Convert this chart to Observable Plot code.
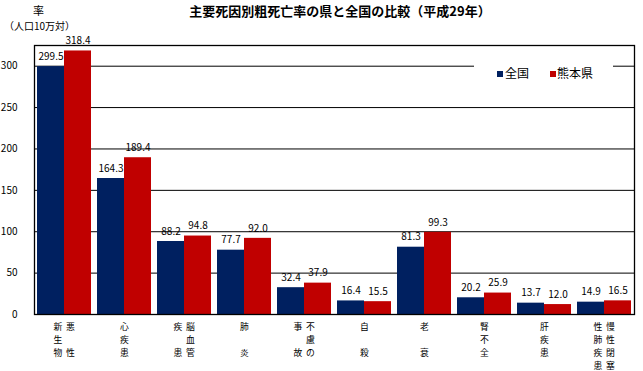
<!DOCTYPE html>
<html>
<head>
<meta charset="utf-8">
<script src="https://cdn.jsdelivr.net/npm/d3@7"></script>
<script src="https://cdn.jsdelivr.net/npm/@observablehq/plot@0.6"></script>
<style>
  html, body { margin: 0; padding: 0; background: #fff; }
  body { font-family: "Noto Sans CJK JP", "Noto Sans", sans-serif; }
  #wrap { position: relative; width: 643px; height: 371px; overflow: hidden; }
  #wrap svg { position: absolute; left: 0; top: 0; }
  .abs { position: absolute; white-space: nowrap; line-height: 1; color: #000; }
  #title { left: 0; width: 680px; top: 4px; text-align: center; font-size: 13px; font-weight: bold; }
  #ylab1 { left: 33px; top: 5px; font-size: 11px; }
  #ylab2 { left: 4px; top: 21px; font-size: 10px; }
  #legend { left: 474px; top: 55px; width: 139px; height: 40px; background: #fff; }
  .sw { position: absolute; width: 6px; height: 6px; top: 16px; }
  .lt { position: absolute; top: 12px; font-size: 12px; line-height: 1; }
</style>
</head>
<body>
<div id="wrap">
  <div id="chart"></div>
  <div class="abs" id="title">主要死因別粗死亡率の県と全国の比較（平成29年）</div>
  <div class="abs" id="ylab1">率</div>
  <div class="abs" id="ylab2">（人口10万対）</div>
  <div class="abs" id="legend"></div>
</div>
<script>
// ---- data ----
const categories = ["悪性新生物","心疾患","脳血管疾患","肺炎","不慮の事故","自殺","老衰","腎不全","肝疾患","慢性閉塞性肺疾患"];
// vertical label columns, right-to-left
const labelColumns = [["悪性","新生物"],["心疾患"],["脳血管","疾患"],["肺炎"],["不慮の","事故"],["自殺"],["老衰"],["腎不全"],["肝疾患"],["慢性閉塞","性肺疾患"]];
const seriesNames = ["全国","熊本県"];
const national = [299.5, 164.3, 88.2, 77.7, 32.4, 16.4, 81.3, 20.2, 13.7, 14.9];
const kumamoto = [318.4, 189.4, 94.8, 92.0, 37.9, 15.5, 99.3, 25.9, 12.0, 16.5];
const yTicks = [0, 50, 100, 150, 200, 250, 300];
const colors = ["#002060", "#C00000"];

// ---- build tables ----
const natRows = categories.map((c, i) => ({cat: c, series: seriesNames[0], value: national[i]}));
const kumRows = categories.map((c, i) => ({cat: c, series: seriesNames[1], value: kumamoto[i]}));

const W = 643, H = 371, ML = 34, MR = 9, MT = 45, MB = 57;
const xOpts = {type: "band", domain: categories, paddingInner: 0.1, paddingOuter: 0.05};
const bw = Plot.scale({x: {...xOpts, range: [ML, W - MR]}}).bandwidth;

// one multi-line text per label column; chars distributed over the rows
const cols = [];
categories.forEach((c, i) => {
  const cs = labelColumns[i];
  const R = Math.max(3, d3.max(cs, s => s.length));
  cs.forEach((s, j) => {
    const off = cs.length === 1 ? 0 : (j === 0 ? 6 : -6.5);
    const n = s.length;
    const lines = Array(R).fill("");
    Array.from(s).forEach((ch, k) => {
      const row = n === 1 ? 0 : Math.round(k * (R - 1) / (n - 1));
      lines[row] = ch;
    });
    cols.push({cat: c, text: lines.join("\n"), off});
  });
});
const fmt = d3.format(".1f");

const LFS = 8.8, LSTEP = 12.9;
const labelMarks = [-6.5, 0, 6].map(off => Plot.text(cols.filter(d => d.off === off), {
  x: "cat", text: "text", frameAnchor: "bottom", dx: off, dy: 6.5,
  fontSize: LFS, lineAnchor: "top", lineHeight: LSTEP / LFS
}));

const chart = Plot.plot({
  width: W, height: H,
  marginLeft: ML, marginRight: MR, marginTop: MT, marginBottom: MB,
  style: {fontFamily: '"Noto Sans CJK JP", "Noto Sans", sans-serif', fontSize: "10px", color: "#000", background: "transparent"},
  x: {...xOpts, axis: null},
  y: {domain: [0, 325], ticks: yTicks, tickSize: 0, tickPadding: 17, label: null, tickFormat: d3.format("d")},
  marks: [
    Plot.ruleY(yTicks.filter(t => t > 0), {stroke: "#000", strokeWidth: 1}),
    Plot.barY(natRows, {x: "cat", y: "value", fill: colors[0], insetRight: bw / 2}),
    Plot.barY(kumRows, {x: "cat", y: "value", fill: colors[1], insetLeft: bw / 2}),
    Plot.text(natRows, {x: "cat", y: "value", text: d => fmt(d.value), dx: -bw / 4, dy: -10, fontSize: 10}),
    Plot.text(kumRows, {x: "cat", y: "value", text: d => fmt(d.value), dx: bw / 4, dy: -10, fontSize: 10}),
    Plot.frame({stroke: "#000", strokeWidth: 1.3}),
    ...labelMarks
  ]
});
document.getElementById("chart").appendChild(chart);

// legend
const leg = document.getElementById("legend");
const legPos = [{sw: 23, tx: 31}, {sw: 76, tx: 83}];
seriesNames.forEach((s, i) => {
  const sw = document.createElement("div");
  sw.className = "sw"; sw.style.left = legPos[i].sw + "px"; sw.style.background = colors[i];
  const t = document.createElement("div");
  t.className = "lt"; t.style.left = legPos[i].tx + "px"; t.textContent = s;
  leg.appendChild(sw); leg.appendChild(t);
});
</script>
</body>
</html>
